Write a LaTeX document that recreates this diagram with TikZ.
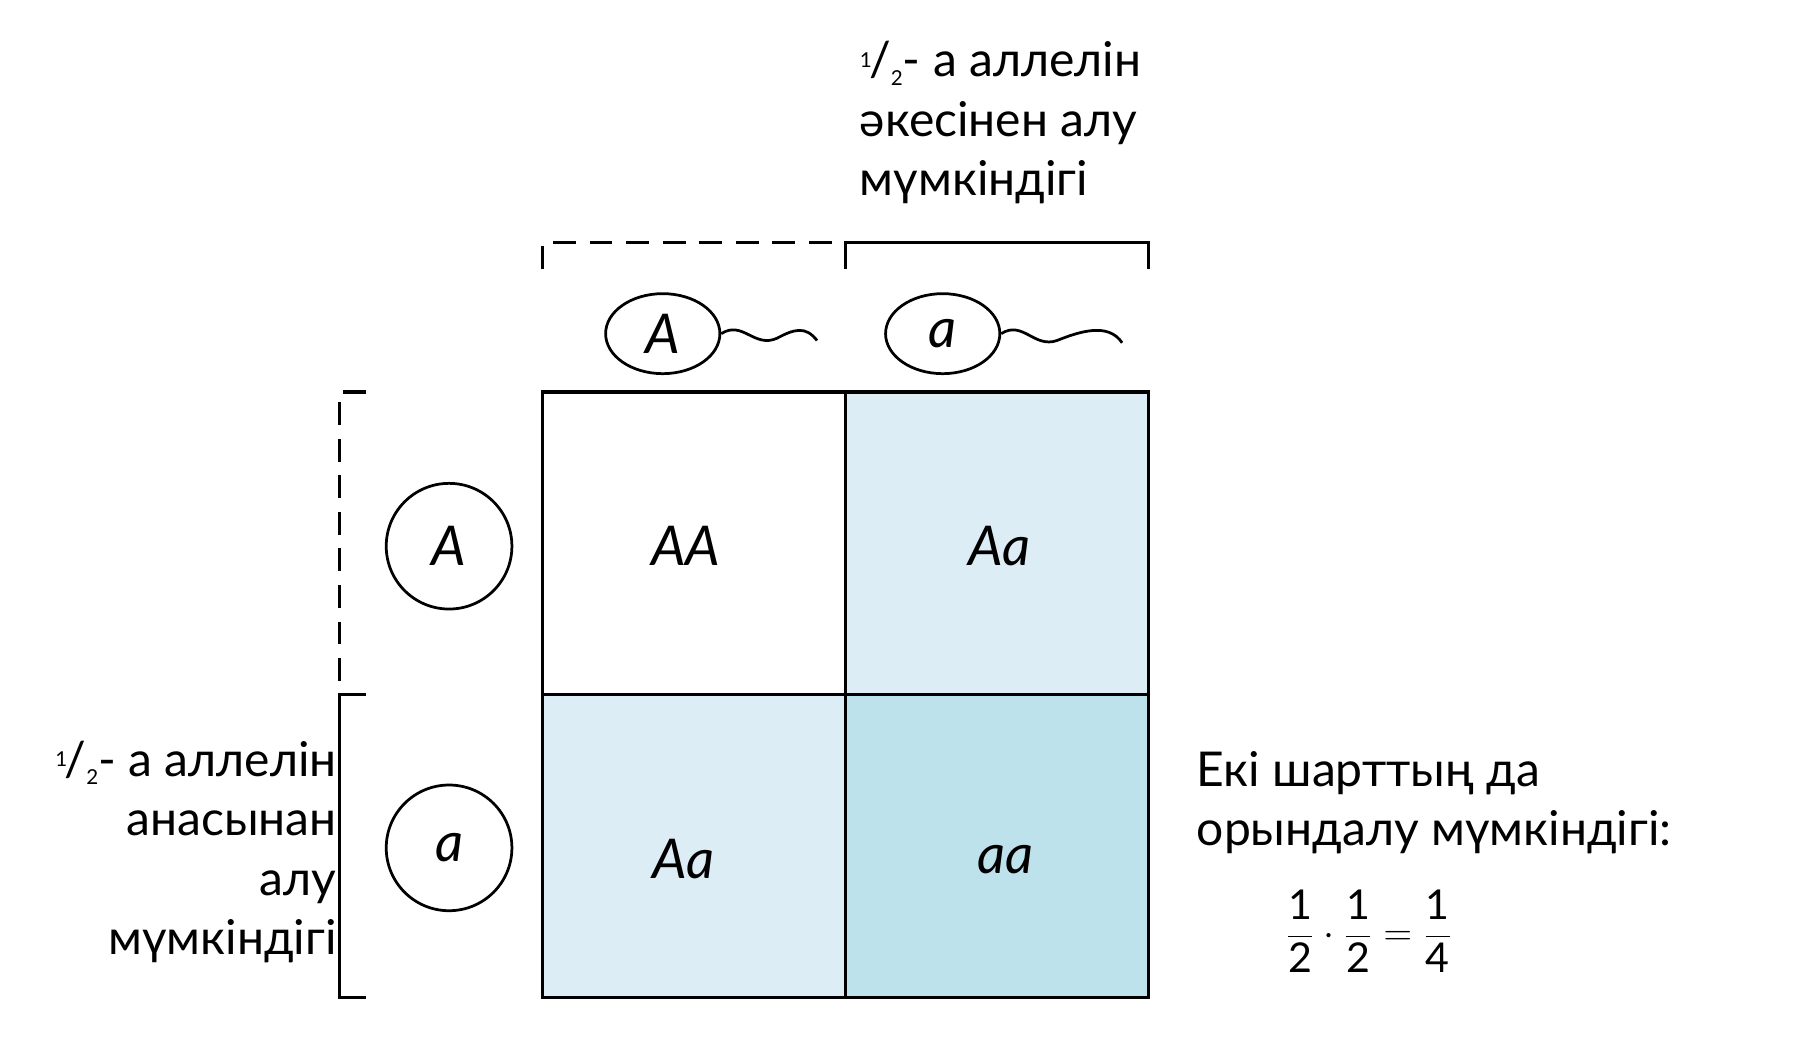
\documentclass[tikz,border=0pt]{standalone}
\usepackage{fontspec}
\setmainfont{Lato}
\usetikzlibrary{shapes.geometric}
\newcommand{\hlf}{\raisebox{0.4ex}{\small 1}\kern-0.05em/\raisebox{-0.35ex}{\small 2}}
\newcommand{\fr}[2]{$\displaystyle\frac{\mbox{#1}}{\mbox{#2}}$}
\begin{document}
\begin{tikzpicture}[x=0.5pt,y=-0.5pt,
  ln/.style={line width=1.5pt},
  hw/.style={font=\fontsize{24}{24}\selectfont\itshape},
  lbl/.style={font=\fontsize{21}{26}\selectfont, inner sep=0pt},
  circ/.style={draw,line width=1.2pt,circle,minimum size=55pt,inner sep=0pt},
  sp/.style={draw,line width=1.2pt,ellipse,minimum width=50pt,minimum height=35pt,inner sep=0pt}]
\useasboundingbox (0,0) rectangle (1570,925);
\fill[fill={rgb,255:red,220;green,237;blue,245}] (740,343) rectangle (1005,608);
\fill[fill={rgb,255:red,220;green,237;blue,245}] (475,608) rectangle (740,873);
\fill[fill={rgb,255:red,190;green,226;blue,235}] (740,608) rectangle (1005,873);
\draw[ln] (475,343) rectangle (1005,873);
\draw[ln] (740,343) -- (740,873) (475,608) -- (1005,608);
\node[hw] (c1) at (600,478) {AA};
\node[hw] (c2) at (875,478) {Aa};
\node[hw] (c3) at (598,752) {Aa};
\node[hw] (c4) at (880,752) {aa};
\draw[ln,dash pattern=on 10pt off 6pt] (475,235) -- (475,212) -- (740,212);
\draw[ln] (740,235) -- (740,212) -- (1005,212) -- (1005,235);
\draw[ln,dash pattern=on 10pt off 6pt] (320,343) -- (297,343) -- (297,608);
\draw[ln] (320,608) -- (297,608) -- (297,873) -- (320,873);
\node[sp,hw] (s1) at (580,292) {A};
\node[sp,hw] (s2) at (825,292) {a};
\draw[line width=1.2pt] (s1.east) .. controls (650,280) and (660,305) .. (680,296) .. controls (695,288) and (705,285) .. (715,298);
\draw[line width=1.2pt] (s2.east) .. controls (895,280) and (905,305) .. (925,298) .. controls (945,290) and (970,282) .. (982,300);
\node[circ,hw] (e1) at (393,478) {A};
\node[circ,hw] (e2) at (393,742) {a};
\node[lbl,anchor=north west,align=left] (t1) at (752,36) {\hlf- а аллелін\\әкесінен алу\\мүмкіндігі};
\node[lbl,anchor=north east,align=right] (t2) at (295,648) {\hlf- а аллелін\\анасынан\\алу\\мүмкіндігі};
\node[lbl,anchor=north west,align=left] (t3) at (1047,657) {Екі шарттың да\\орындалу мүмкіндігі:};
\node[font=\fontsize{18}{18}\selectfont,inner sep=0pt] (f) at (1198,815) {\fr12${}\cdot{}$\fr12${}={}$\fr14};
\end{tikzpicture}
\end{document}
